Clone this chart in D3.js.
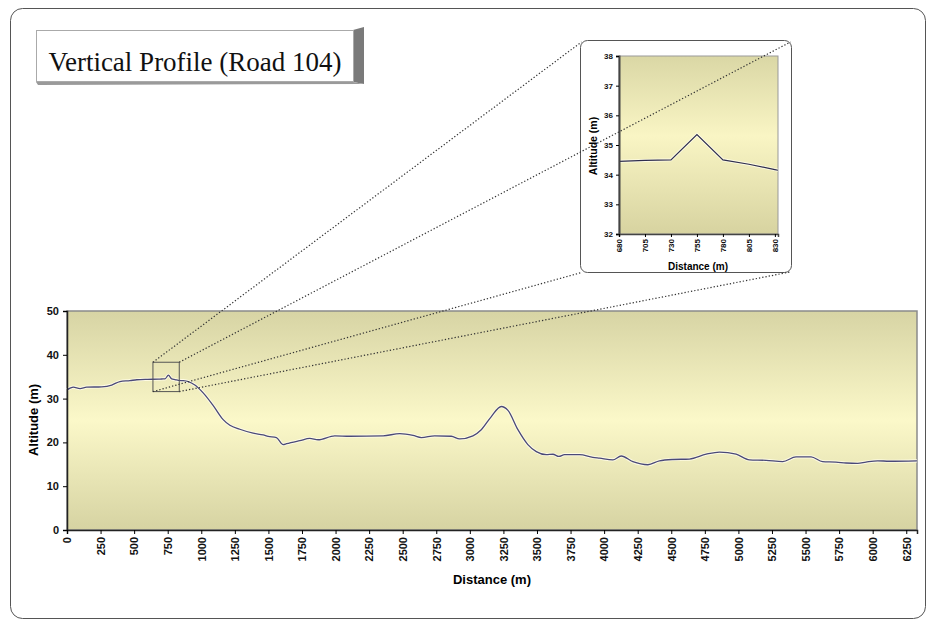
<!DOCTYPE html>
<html><head><meta charset="utf-8">
<script src="https://cdn.jsdelivr.net/npm/d3@7"></script>
<style>body{margin:0;background:#fff}svg{display:block}</style>
</head><body>
<svg id="c" width="930" height="622"></svg>
<script>
// ---- data ----
const distances = [0,47,97,146,258,333,394,469,520,600,680,705,730,755,780,805,830,866,903,952,1014,1089,1163,1213,1287,1386,1461,1498,1560,1610,1635,1734,1808,1870,1994,2106,2354,2478,2577,2639,2738,2862,2924,3023,3085,3160,3234,3284,3358,3432,3495,3569,3619,3663,3705,3817,3916,3966,4065,4127,4214,4326,4412,4511,4635,4760,4859,4983,5082,5206,5330,5429,5541,5627,5727,5801,5888,5950,6037,6124,6330];
const altitudes = [32.0,32.6,32.3,32.6,32.7,33.1,33.9,34.1,34.3,34.4,34.45,34.48,34.5,35.35,34.5,34.35,34.15,34.1,33.9,33.1,31.3,28.4,25.2,23.9,23.0,22.1,21.7,21.4,21.1,19.5,19.7,20.4,20.9,20.6,21.5,21.4,21.5,22.0,21.6,21.1,21.5,21.4,20.8,21.5,22.9,25.9,28.2,27.3,22.9,19.5,17.9,17.2,17.3,16.8,17.2,17.2,16.6,16.4,16.0,16.9,15.6,14.9,15.8,16.1,16.2,17.3,17.8,17.3,16.0,15.9,15.6,16.7,16.7,15.6,15.5,15.3,15.2,15.5,15.8,15.7,15.8];
const xTicks = d3.range(0, 6251, 250);
const yTicks = [0,10,20,30,40,50];

const insetDistances = [680,705,730,755,780,805,830,833];
const insetAltitudes = [34.45,34.48,34.5,35.35,34.5,34.35,34.17,34.15];
const insetXTicks = [680,705,730,755,780,805,830];
const insetYTicks = [32,33,34,35,36,37,38];

const zoomDist = [640, 836];
const zoomAlt = [31.6, 38.3];

const titleText = "Vertical Profile (Road 104)";

// ---- drawing ----
const svg = d3.select("#c");
const defs = svg.append("defs");
function grad(id, stops){
  const g = defs.append("linearGradient").attr("id", id).attr("x1",0).attr("y1",0).attr("x2",0).attr("y2",1);
  stops.forEach(s => g.append("stop").attr("offset", s[0]).attr("stop-color", s[1]));
}
grad("gMain", [[0,"#d7d4a4"],[0.5,"#fbf8c9"],[1,"#d6d3a2"]]);
grad("gInset", [[0,"#dad7a5"],[0.45,"#f9f5c4"],[1,"#d7d3a0"]]);

// outer frame
svg.append("rect").attr("x",10.5).attr("y",8.5).attr("width",915).attr("height",610)
  .attr("rx",12).attr("fill","#fff").attr("stroke","#555").attr("stroke-width",1);

// title box
const tb = svg.append("g");
tb.append("polygon").attr("points","353,30 364,27 364,84 353,82").attr("fill","#7a7a7a");
tb.append("polygon").attr("points","36,82 353,82 364,84 38,85").attr("fill","#9a9a9a");
tb.append("rect").attr("x",36.5).attr("y",30.5).attr("width",317).attr("height",51)
  .attr("fill","#fff").attr("stroke","#aaa").attr("stroke-width",1);
tb.append("text").attr("x",195).attr("y",71).attr("text-anchor","middle")
  .attr("font-family","Liberation Serif, Times New Roman, serif").attr("font-size",27)
  .attr("fill","#111").text(titleText);

// main chart
const M = {l:67, r:917, t:311, b:530};
const x = d3.scaleLinear().domain([0,6330]).range([M.l, M.r]);
const y = d3.scaleLinear().domain([0,50]).range([M.b, M.t]);
const main = svg.append("g");
main.append("rect").attr("x",M.l).attr("y",M.t).attr("width",M.r-M.l).attr("height",M.b-M.t)
  .attr("fill","url(#gMain)").attr("stroke","#8a8a8a").attr("stroke-width",1.5);

const pts = distances.map((d,i)=>[d, altitudes[i]]);
const line = d3.line().x(d=>x(d[0])).y(d=>y(d[1])).curve(d3.curveMonotoneX);
main.append("path").attr("d", line(pts)).attr("fill","none").attr("stroke","#fffde8").attr("stroke-width",3.2).attr("opacity",0.9);
main.append("path").attr("d", line(pts)).attr("fill","none").attr("stroke","#4a4978").attr("stroke-width",1.3);

// axes
const yAxis = d3.axisLeft(y).tickValues(yTicks).tickSize(4).tickPadding(4);
const gy = main.append("g").attr("transform",`translate(${M.l},0)`).call(yAxis);
gy.select(".domain").attr("stroke","#222").attr("stroke-width",1.5);
gy.selectAll("text").attr("font-family","Liberation Sans, Arial, sans-serif").attr("font-weight","bold").attr("font-size",11).attr("fill","#111");

const xAxis = d3.axisBottom(x).tickValues(xTicks).tickSize(4).tickFormat(d3.format("d"));
const gx = main.append("g").attr("transform",`translate(0,${M.b})`).call(xAxis);
gx.select(".domain").attr("stroke","#222").attr("stroke-width",1.5);
gx.selectAll("text").attr("font-family","Liberation Sans, Arial, sans-serif").attr("font-weight","bold").attr("font-size",11).attr("fill","#111")
  .attr("transform","rotate(-90)").attr("text-anchor","end").attr("x",-7).attr("y",0).attr("dy","0.35em");

main.append("text").attr("x",492).attr("y",584).attr("text-anchor","middle")
  .attr("font-family","Liberation Sans, Arial, sans-serif").attr("font-weight","bold").attr("font-size",13).text("Distance (m)");
main.append("text").attr("transform","translate(38,420) rotate(-90)").attr("text-anchor","middle")
  .attr("font-family","Liberation Sans, Arial, sans-serif").attr("font-weight","bold").attr("font-size",13).text("Altitude (m)");

// zoom rectangle
const zr = {x0:x(zoomDist[0]), x1:x(zoomDist[1]), y0:y(zoomAlt[1]), y1:y(zoomAlt[0])};
main.append("rect").attr("x",zr.x0).attr("y",zr.y0).attr("width",zr.x1-zr.x0).attr("height",zr.y1-zr.y0)
  .attr("fill","none").attr("stroke","#555").attr("stroke-width",1);

// inset
const I = {l:619, r:778, t:56, b:234};
const box = {x:580.5, y:40.5, w:211, h:232};
svg.append("rect").attr("x",box.x).attr("y",box.y).attr("width",box.w).attr("height",box.h).attr("rx",7)
  .attr("fill","#fff").attr("stroke","#555").attr("stroke-width",1);
const xi = d3.scaleLinear().domain([680,833]).range([I.l, I.r]);
const yi = d3.scaleLinear().domain([32,38]).range([I.b, I.t]);
const ins = svg.append("g");
ins.append("rect").attr("x",I.l).attr("y",I.t).attr("width",I.r-I.l).attr("height",I.b-I.t)
  .attr("fill","url(#gInset)").attr("stroke","#999").attr("stroke-width",1);
const ipts = insetDistances.map((d,i)=>[d, insetAltitudes[i]]);
const iline = d3.line().x(d=>xi(d[0])).y(d=>yi(d[1]));
ins.append("path").attr("d", iline(ipts)).attr("fill","none").attr("stroke","#fffde8").attr("stroke-width",3).attr("opacity",0.9);
ins.append("path").attr("d", iline(ipts)).attr("fill","none").attr("stroke","#2e2d4e").attr("stroke-width",1.2);
const giy = ins.append("g").attr("transform",`translate(${I.l},0)`)
  .call(d3.axisLeft(yi).tickValues(insetYTicks).tickFormat(d3.format("d")).tickSize(3).tickPadding(3));
giy.select(".domain").attr("stroke","#444").attr("stroke-width",2);
giy.selectAll("text").attr("font-family","Liberation Sans, Arial, sans-serif").attr("font-weight","bold").attr("font-size",8).attr("fill","#111");
const gix = ins.append("g").attr("transform",`translate(0,${I.b})`)
  .call(d3.axisBottom(xi).tickValues(insetXTicks).tickFormat(d3.format("d")).tickSize(3));
gix.select(".domain").attr("stroke","#444").attr("stroke-width",1.5);
gix.selectAll("text").attr("font-family","Liberation Sans, Arial, sans-serif").attr("font-weight","bold").attr("font-size",8).attr("fill","#111")
  .attr("transform","rotate(-90)").attr("text-anchor","end").attr("x",-5).attr("y",0).attr("dy","0.35em");
ins.append("text").attr("x",698).attr("y",270).attr("text-anchor","middle")
  .attr("font-family","Liberation Sans, Arial, sans-serif").attr("font-weight","bold").attr("font-size",10).text("Distance (m)");
ins.append("text").attr("transform","translate(597,146) rotate(-90)").attr("text-anchor","middle")
  .attr("font-family","Liberation Sans, Arial, sans-serif").attr("font-weight","bold").attr("font-size",10.5).text("Altitude (m)");

// connector dotted lines
const conns = [
  [[zr.x0,zr.y0],[box.x+1,box.y+1.5]],
  [[zr.x1,zr.y0],[box.x+box.w-1,box.y+1.5]],
  [[zr.x0,zr.y1],[box.x+1,box.y+box.h]],
  [[zr.x1,zr.y1],[box.x+box.w-1.5,box.y+box.h-0.5]]
];
svg.append("g").selectAll("line").data(conns).join("line")
  .attr("x1",d=>d[0][0]).attr("y1",d=>d[0][1]).attr("x2",d=>d[1][0]).attr("y2",d=>d[1][1])
  .attr("stroke","#333").attr("stroke-width",1.2).attr("stroke-dasharray","1.3,2");
</script>
</body></html>
